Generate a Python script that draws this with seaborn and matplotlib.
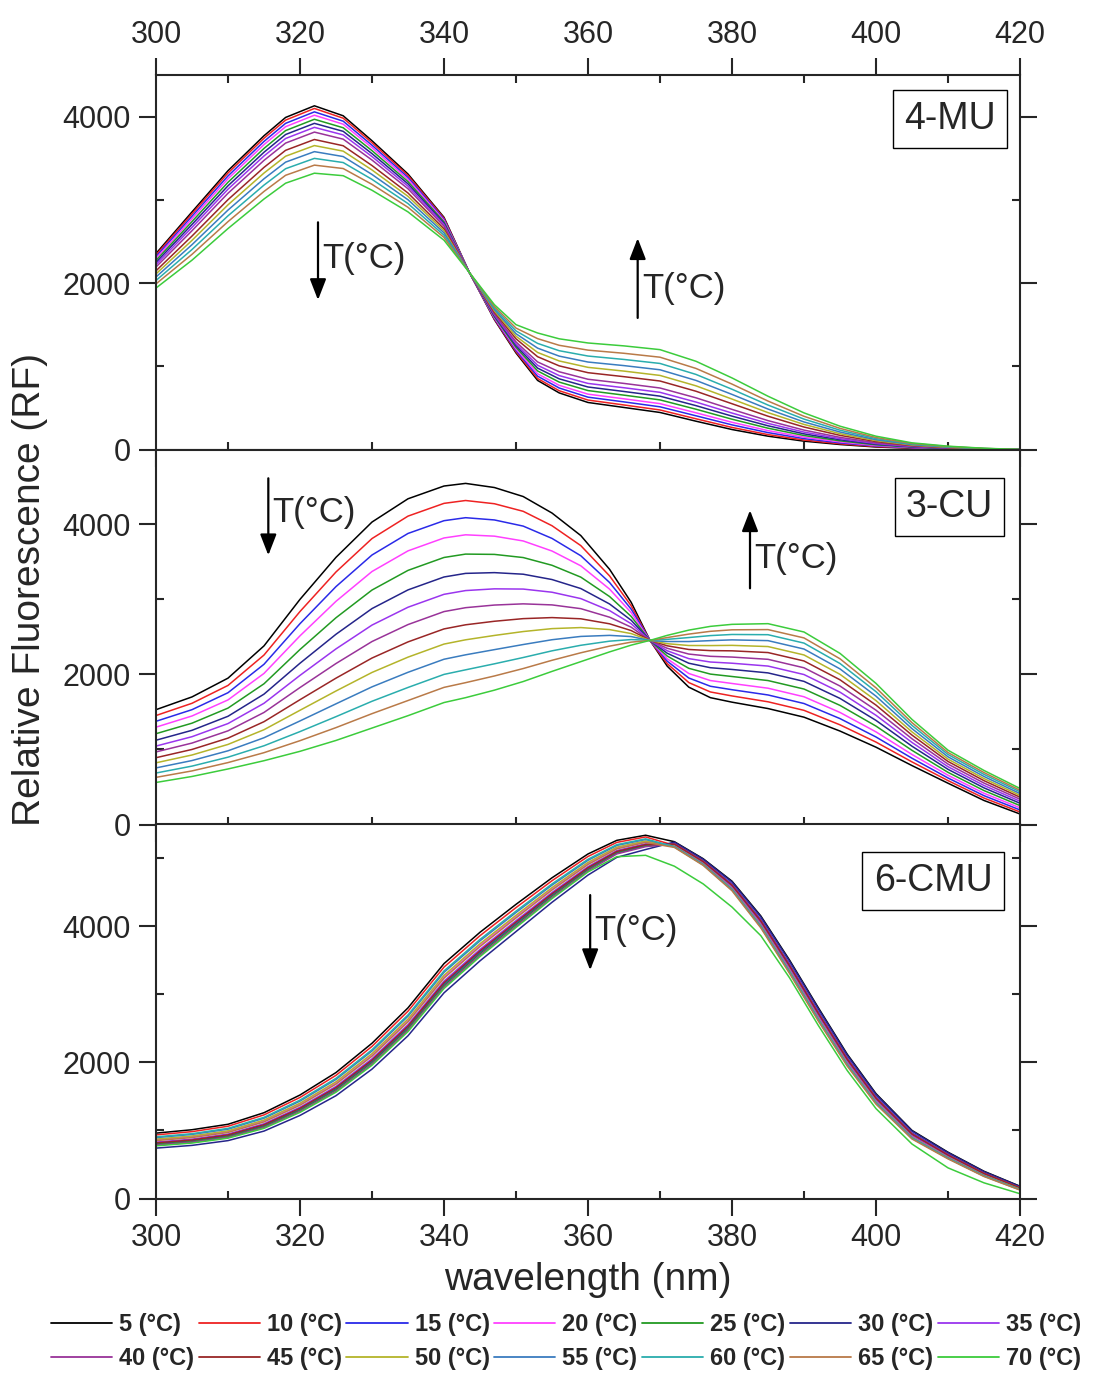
import matplotlib
matplotlib.use("Agg")
import matplotlib.pyplot as plt
from matplotlib.lines import Line2D
from matplotlib.ticker import MultipleLocator
import seaborn as sns
import pandas as pd

# ---------------------------------------------------------------- data
TEMPS = [5, 10, 15, 20, 25, 30, 35, 40, 45, 50, 55, 60, 65, 70]
TEMP_LABELS = [f"{t} (°C)" for t in TEMPS]
COLORS = ["#000000", "#ee2222", "#2a2ae8", "#ff40ff", "#229a22", "#25258a",
          "#9a35ee", "#993399", "#992626", "#b4b42a", "#3a7cbf", "#2aadad",
          "#b97a48", "#3ccc3c"]

# 4-MU: rows = wavelength, columns = temperature (5 ... 70 °C)
MU4_WL = [300, 305, 310, 315, 318, 322, 326, 330, 335, 340, 343.5, 347, 350,
          353, 356, 360, 365, 370, 375, 380, 385, 390, 395, 400, 405, 410,
          415, 420]
MU4_RF = [
    [2355, 2338, 2318, 2297, 2272, 2247, 2222, 2193, 2147, 2110, 2073, 2031, 1990, 1940],
    [2855, 2832, 2803, 2774, 2739, 2704, 2669, 2629, 2565, 2513, 2461, 2403, 2345, 2275],
    [3350, 3322, 3287, 3253, 3211, 3169, 3128, 3079, 3002, 2940, 2877, 2808, 2738, 2655],
    [3770, 3740, 3702, 3664, 3618, 3572, 3527, 3474, 3390, 3322, 3253, 3177, 3101, 3010],
    [3990, 3958, 3919, 3879, 3832, 3785, 3737, 3682, 3595, 3524, 3453, 3374, 3295, 3200],
    [4130, 4098, 4057, 4017, 3968, 3919, 3871, 3814, 3725, 3652, 3579, 3498, 3417, 3320],
    [4010, 3981, 3945, 3909, 3866, 3823, 3780, 3729, 3650, 3585, 3520, 3448, 3376, 3290],
    [3710, 3686, 3656, 3627, 3591, 3555, 3520, 3478, 3412, 3359, 3305, 3246, 3186, 3115],
    [3310, 3292, 3269, 3246, 3219, 3192, 3164, 3133, 3082, 3042, 3001, 2955, 2910, 2855],
    [2790, 2779, 2765, 2751, 2735, 2718, 2702, 2683, 2652, 2628, 2603, 2575, 2548, 2515],
    [2132, 2130, 2131, 2129, 2130, 2128, 2131, 2130, 2129, 2130, 2131, 2128, 2130, 2129],
    [1560, 1567, 1576, 1585, 1596, 1607, 1618, 1630, 1650, 1666, 1682, 1700, 1718, 1740],
    [1160, 1174, 1191, 1208, 1228, 1248, 1269, 1293, 1330, 1361, 1391, 1425, 1459, 1500],
    [830, 853, 881, 910, 944, 978, 1012, 1052, 1115, 1166, 1218, 1275, 1332, 1400],
    [680, 706, 739, 771, 810, 849, 888, 934, 1005, 1064, 1122, 1187, 1252, 1330],
    [565, 594, 629, 665, 708, 751, 794, 844, 923, 987, 1051, 1123, 1194, 1280],
    [505, 535, 572, 609, 653, 697, 742, 794, 875, 942, 1008, 1082, 1156, 1245],
    [445, 475, 513, 551, 596, 641, 687, 739, 823, 890, 958, 1034, 1109, 1200],
    [340, 369, 405, 441, 484, 527, 570, 621, 700, 765, 830, 902, 974, 1060],
    [240, 265, 296, 327, 364, 401, 438, 482, 550, 606, 662, 724, 786, 860],
    [160, 179, 203, 227, 256, 285, 314, 347, 400, 443, 486, 534, 582, 640],
    [100, 114, 131, 148, 168, 188, 209, 233, 270, 301, 331, 365, 399, 440],
    [60, 69, 80, 91, 104, 117, 130, 146, 170, 190, 210, 232, 254, 280],
    [30, 35, 42, 48, 56, 64, 72, 81, 95, 107, 118, 131, 144, 160],
    [15, 18, 21, 24, 28, 32, 36, 40, 48, 53, 59, 66, 72, 80],
    [5, 6, 8, 10, 12, 14, 16, 19, 22, 26, 29, 32, 36, 40],
    [0, 1, 1, 2, 3, 4, 5, 6, 8, 9, 10, 12, 13, 15],
    [0, 0, 0, 0, 0, 0, 0, 0, 0, 0, 0, 0, 0, 0],
]

# 3-CU
CU3_WL = [300, 305, 310, 315, 320, 325, 330, 335, 340, 343, 347, 351, 355, 359,
          363, 366, 368.6, 371, 374, 377, 380, 385, 390, 395, 400, 405, 410,
          415, 420]
CU3_RF = [
    [1530, 1452, 1375, 1297, 1210, 1123, 1045, 967, 890, 822, 754, 686, 628, 560],
    [1700, 1615, 1530, 1446, 1350, 1255, 1170, 1085, 1000, 926, 852, 778, 714, 640],
    [1950, 1853, 1756, 1660, 1551, 1442, 1345, 1248, 1151, 1067, 982, 897, 825, 740],
    [2380, 2258, 2135, 2013, 1875, 1737, 1615, 1493, 1370, 1263, 1156, 1049, 957, 850],
    [3000, 2838, 2676, 2514, 2332, 2149, 1987, 1825, 1663, 1522, 1380, 1238, 1117, 975],
    [3560, 3365, 3170, 2974, 2755, 2535, 2340, 2145, 1950, 1779, 1608, 1437, 1291, 1120],
    [4030, 3810, 3591, 3371, 3124, 2877, 2657, 2438, 2218, 2026, 1834, 1642, 1477, 1285],
    [4340, 4109, 3878, 3646, 3386, 3126, 2895, 2664, 2433, 2230, 2028, 1826, 1652, 1450],
    [4510, 4279, 4048, 3818, 3558, 3298, 3067, 2837, 2606, 2404, 2202, 2000, 1827, 1625],
    [4545, 4317, 4088, 3860, 3603, 3346, 3117, 2889, 2661, 2461, 2261, 2061, 1890, 1690],
    [4490, 4274, 4058, 3842, 3599, 3356, 3140, 2924, 2708, 2519, 2330, 2141, 1979, 1790],
    [4370, 4173, 3976, 3778, 3557, 3335, 3137, 2940, 2743, 2571, 2398, 2225, 2078, 1905],
    [4150, 3981, 3812, 3644, 3454, 3264, 3095, 2926, 2757, 2610, 2462, 2314, 2188, 2040],
    [3850, 3716, 3581, 3447, 3296, 3144, 3010, 2876, 2741, 2624, 2506, 2388, 2288, 2170],
    [3400, 3312, 3224, 3136, 3037, 2938, 2850, 2762, 2674, 2597, 2520, 2443, 2377, 2300],
    [2960, 2914, 2869, 2823, 2772, 2721, 2675, 2629, 2584, 2544, 2504, 2464, 2430, 2390],
    [2455, 2452, 2454, 2453, 2451, 2454, 2453, 2452, 2455, 2453, 2451, 2454, 2452, 2453],
    [2110, 2143, 2176, 2208, 2245, 2282, 2315, 2348, 2381, 2409, 2438, 2467, 2491, 2520],
    [1830, 1891, 1952, 2012, 2081, 2149, 2210, 2271, 2332, 2385, 2438, 2491, 2537, 2590],
    [1690, 1766, 1842, 1918, 2004, 2089, 2165, 2241, 2317, 2384, 2450, 2517, 2574, 2640],
    [1630, 1713, 1796, 1879, 1972, 2066, 2149, 2231, 2314, 2387, 2460, 2532, 2594, 2667],
    [1545, 1635, 1726, 1816, 1918, 2020, 2111, 2201, 2291, 2371, 2450, 2529, 2597, 2676],
    [1430, 1521, 1612, 1702, 1805, 1907, 1998, 2088, 2179, 2259, 2338, 2417, 2486, 2565],
    [1245, 1328, 1411, 1493, 1587, 1680, 1763, 1845, 1928, 2001, 2073, 2145, 2208, 2280],
    [1030, 1098, 1166, 1234, 1311, 1387, 1455, 1523, 1591, 1651, 1710, 1770, 1821, 1880],
    [785, 834, 883, 933, 988, 1043, 1093, 1142, 1191, 1234, 1277, 1320, 1357, 1400],
    [550, 585, 620, 656, 695, 735, 770, 805, 840, 871, 902, 933, 959, 990],
    [320, 352, 384, 416, 452, 488, 520, 552, 584, 612, 640, 668, 692, 720],
    [140, 167, 194, 222, 252, 283, 310, 337, 364, 388, 412, 436, 456, 480],
]

# 6-CMU
CMU6_WL = [300, 305, 310, 315, 320, 325, 330, 335, 340, 345, 350, 355, 360,
           364, 368, 372, 376, 380, 384, 388, 392, 396, 400, 405, 410, 415, 420]
CMU6_RF = [
    [960, 934, 806, 861, 795, 740, 828, 784, 817, 872, 894, 905, 850, 773],
    [1010, 982, 849, 906, 837, 780, 872, 826, 860, 918, 941, 952, 895, 814],
    [1090, 1061, 922, 982, 910, 850, 946, 898, 934, 994, 1018, 1030, 970, 886],
    [1260, 1228, 1071, 1138, 1057, 990, 1098, 1044, 1084, 1152, 1179, 1192, 1125, 1030],
    [1520, 1484, 1310, 1385, 1295, 1220, 1340, 1280, 1325, 1400, 1430, 1445, 1370, 1265],
    [1850, 1809, 1612, 1697, 1595, 1510, 1646, 1578, 1629, 1714, 1748, 1765, 1680, 1561],
    [2280, 2234, 2014, 2109, 1995, 1900, 2052, 1976, 2033, 2128, 2166, 2185, 2090, 1957],
    [2800, 2751, 2513, 2615, 2492, 2390, 2554, 2472, 2533, 2636, 2677, 2697, 2595, 2451],
    [3450, 3398, 3149, 3256, 3127, 3020, 3192, 3106, 3170, 3278, 3321, 3342, 3235, 3084],
    [3910, 3860, 3616, 3721, 3595, 3490, 3658, 3574, 3637, 3742, 3784, 3805, 3700, 3553],
    [4320, 4272, 4040, 4140, 4020, 3920, 4080, 4000, 4060, 4160, 4200, 4220, 4120, 3980],
    [4710, 4667, 4458, 4548, 4440, 4350, 4494, 4422, 4476, 4566, 4602, 4620, 4530, 4404],
    [5060, 5023, 4843, 4920, 4827, 4750, 4874, 4812, 4858, 4936, 4967, 4982, 4905, 4796],
    [5260, 5230, 5085, 5147, 5072, 5010, 5110, 5060, 5097, 5160, 5185, 5197, 5135, 5020],
    [5335, 5310, 5188, 5240, 5177, 5125, 5209, 5167, 5198, 5251, 5272, 5282, 5230, 5040],
    [5240, 5186, 5216, 5180, 5198, 5234, 5192, 5210, 5204, 5174, 5168, 5162, 5156, 4880],
    [4990, 4927, 4962, 4920, 4941, 4983, 4934, 4955, 4948, 4913, 4906, 4899, 4892, 4620],
    [4660, 4570, 4620, 4560, 4590, 4650, 4580, 4610, 4600, 4550, 4540, 4530, 4520, 4280],
    [4150, 4037, 4100, 4025, 4062, 4137, 4050, 4087, 4075, 4012, 4000, 3987, 3975, 3860],
    [3500, 3374, 3444, 3360, 3402, 3486, 3388, 3430, 3416, 3346, 3332, 3318, 3304, 3240],
    [2800, 2674, 2744, 2660, 2702, 2786, 2688, 2730, 2716, 2646, 2632, 2618, 2604, 2540],
    [2120, 2007, 2070, 1995, 2032, 2107, 2020, 2057, 2045, 1982, 1970, 1957, 1945, 1880],
    [1540, 1441, 1496, 1430, 1463, 1529, 1452, 1485, 1474, 1419, 1408, 1397, 1386, 1320],
    [1000, 919, 964, 910, 937, 991, 928, 955, 946, 901, 892, 883, 874, 800],
    [680, 617, 652, 610, 631, 673, 624, 645, 638, 603, 596, 589, 582, 450],
    [400, 350, 378, 345, 361, 394, 356, 372, 367, 339, 334, 328, 323, 230],
    [180, 144, 164, 140, 152, 176, 148, 160, 156, 136, 132, 128, 124, 70],
]

PANELS = [
    ("4-MU", MU4_WL, MU4_RF, 4500),
    ("3-CU", CU3_WL, CU3_RF, 4990),
    ("6-CMU", CMU6_WL, CMU6_RF, 5500),
]

# ---------------------------------------------------------------- style
sns.set_style("ticks")
plt.rcParams["font.family"] = ["Liberation Sans", "DejaVu Sans"]
plt.rcParams["axes.linewidth"] = 1.5

palette = dict(zip(TEMP_LABELS, COLORS))


def long_frame(wl, rows):
    recs = []
    for w, row in zip(wl, rows):
        for lab, v in zip(TEMP_LABELS, row):
            recs.append((w, lab, v))
    return pd.DataFrame(recs, columns=["wavelength", "temp", "rf"])


W, H = 1102, 1380
fig = plt.figure(figsize=(W / 100, H / 100), dpi=100)

left = 156 / W
width = (1020 - 156) / W
tops_px = [75, 450, 824]
heights_px = 374.5

axes = []
for i, (name, wl, rows, ymax) in enumerate(PANELS):
    top = tops_px[i]
    ax = fig.add_axes([left, 1 - (top + heights_px) / H, width, heights_px / H])
    df = long_frame(wl, rows)
    sns.lineplot(data=df, x="wavelength", y="rf", hue="temp",
                 hue_order=TEMP_LABELS, palette=palette, estimator=None,
                 linewidth=1.1, legend=False, ax=ax)
    ax.set_xlim(300, 420)
    ax.set_ylim(0, ymax)
    ax.set_xlabel("")
    ax.set_ylabel("")
    ax.xaxis.set_major_locator(MultipleLocator(20))
    ax.xaxis.set_minor_locator(MultipleLocator(10))
    ax.yaxis.set_major_locator(MultipleLocator(2000))
    ax.yaxis.set_minor_locator(MultipleLocator(1000))
    ax.tick_params(which="major", direction="out", length=12, width=1.5,
                   labelsize=22, pad=6)
    ax.tick_params(which="minor", direction="in", length=6, width=1.5)
    ax.tick_params(axis="y", which="both", left=True, right=True,
                   labelleft=True, labelright=False)
    first, last = i == 0, i == len(PANELS) - 1
    ax.tick_params(axis="x", which="both", bottom=True, top=first,
                   labelbottom=last, labeltop=first)
    for s in ax.spines.values():
        s.set_visible(True)
        s.set_linewidth(1.5)
    axes.append(ax)

ax1, ax2, ax3 = axes

# panel tags
tag_kw = dict(fontsize=27, ha="right", va="top",
              bbox=dict(boxstyle="square,pad=0.3", fc="white", ec="black", lw=1.0))
ax1.text(0.972, 0.930, "4-MU", transform=ax1.transAxes, **tag_kw)
ax2.text(0.969, 0.896, "3-CU", transform=ax2.transAxes, **tag_kw)
ax3.text(0.968, 0.896, "6-CMU", transform=ax3.transAxes, **tag_kw)

# temperature trend arrows
arrow_kw = dict(arrowstyle="-|>,head_length=0.85,head_width=0.33", color="black",
                lw=1.6, shrinkA=0, shrinkB=0, mutation_scale=15)


def trend(ax, x, y0, y1, ytext):
    ax.annotate("", xy=(x, y1), xytext=(x, y0), arrowprops=arrow_kw)
    ax.text(x + 0.6, ytext, "T(°C)", fontsize=25, ha="left", va="center")


trend(ax1, 322.5, 2730, 1796, 2300)
trend(ax1, 366.9, 1581, 2539, 1940)
trend(ax2, 315.6, 4613, 3587, 4160)
trend(ax2, 382.5, 3147, 4187, 3547)
trend(ax3, 360.3, 4456, 3353, 3941)

# axis titles
ax3.set_xlabel("wavelength (nm)", fontsize=28, labelpad=6)
fig.text(0.027, 1 - 590 / H, "Relative Fluorescence (RF)", rotation=90,
         fontsize=28, ha="center", va="center")

# legend, filled row by row (7 entries per row)
handles = [Line2D([0], [0], color=c, lw=1.3) for c in COLORS]
ncol, nrow = 7, 2
order = [(k % nrow) * ncol + k // nrow for k in range(len(TEMP_LABELS))]
fig.legend([handles[j] for j in order], [TEMP_LABELS[j] for j in order],
           ncol=ncol, loc="center",
           bbox_to_anchor=(566 / W, 1 - 1341.5 / H), frameon=False,
           prop=dict(family=["Liberation Sans Narrow", "Liberation Sans"],
                     weight="bold", size=17),
           handlelength=2.6, handletextpad=0.3, columnspacing=0.18,
           labelspacing=0.45, borderpad=0.0, borderaxespad=0.0)

fig.savefig("out.png", dpi=100)
